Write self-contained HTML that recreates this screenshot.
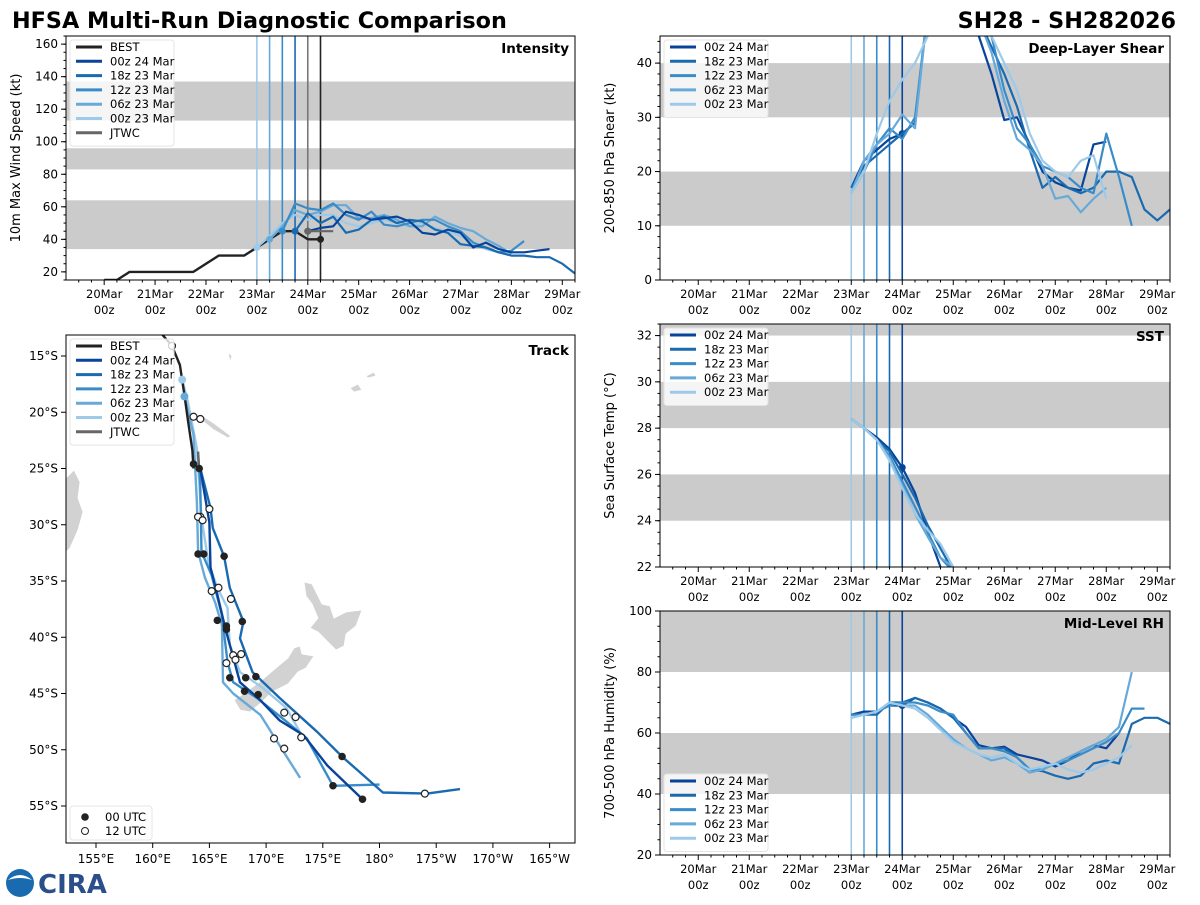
<!DOCTYPE html>
<html><head><meta charset="utf-8"><style>
body{margin:0;background:#fff;font-family:"Liberation Sans","DejaVu Sans",sans-serif}
svg text{font-family:"DejaVu Sans","Liberation Sans",sans-serif}
</style></head><body>
<svg id="s" width="1200" height="900" viewBox="0 0 1200 900" xmlns="http://www.w3.org/2000/svg">
<text x="12" y="28" font-size="22.3" font-weight="bold">HFSA Multi-Run Diagnostic Comparison</text>
<text x="1176" y="28" font-size="22.3" font-weight="bold" text-anchor="end">SH28 - SH282026</text>
<g>
<circle cx="20" cy="883" r="14" fill="#1a6ab0"/><path d="M8 880 Q20 870 32 880 Q20 876 8 880Z" fill="#fff"/>
<text x="38" y="893" font-size="26" font-weight="bold" fill="#2a4f8a">CIRA</text>
</g>
</svg>
<script>
const svg=document.getElementById('s');
const NS='http://www.w3.org/2000/svg';
function mk(t,a,p){const e=document.createElementNS(NS,t);for(const k in a)e.setAttribute(k,a[k]);(p||svg).appendChild(e);return e;}
const COL={best:'#222',r00z24:'#08449a',r18z23:'#1a6ab0',r12z23:'#3a8cc8',r06z23:'#67a9d8',r00z23:'#9ecae9',jtwc:'#666'};
const runNames=['00z 24 Mar','18z 23 Mar','12z 23 Mar','06z 23 Mar','00z 23 Mar'];
const runCols=[COL.r00z24,COL.r18z23,COL.r12z23,COL.r06z23,COL.r00z23];

// ---- data (time in days since 20 Mar 00z, 6-hourly) ----
const bestInt=[15,15,20,20,20,20,20,20,25,30,30,30,35,40,45,45,40,40];
const jtwcInt=[45,45,45];
const int00z24=[45,47,48,57,55,52,53,54,51,44,43,46,44,35,38,34,32,32,33,34];
const int18z23=[45,56,50,54,44,46,52,54,50,52,51,46,44,37,36,35,32,30,30,29,29,25,19];
const int12z23=[45,62,59,58,62,55,52,57,49,48,50,52,52,48,45,38,35,32,33,39];
const int06z23=[40,48,58,55,57,61,61,53,53,55,52,48,48,54,50,47,45,40,36,31];
const int00z23=[35,42,50,55,52,55,55,50,48,50,52,50,48,50,47,45,42,38,34,32,32];

const shr00z24=[17,22,24,26,27,29,50,60,60,55,45,38,29.5,30,25,20,18,17,16.5,25,25.5];
const shr18z23=[17,21,23,25,27,29,50,60,60,55,48,43,38,32,24,17,19,17,16,17,20,20,19,13,11,13];
const shr12z23=[16,20,25,28,26,30,50,60,60,55,50,45,35,28,25,21,20,19,17,16,27,19,10];
const shr06z23=[16,22,25,27,30.5,28,50,60,60,55,48,42,33,26,24,21,15,15.5,12.5,15,17];
const shr00z23=[16,20,27,33,37,40,45,60,60,55,50,45,40,35,27,22,20,19,22,23,15];

const sst00z24=[28.4,28.0,27.6,27.1,26.3,25.2,23.5,22.0];
const sst18z23=[28.4,28.0,27.5,27.0,26.0,25.0,23.8,22.8,21.8];
const sst12z23=[28.4,28.0,27.5,26.8,25.7,24.6,23.5,22.4,21.8];
const sst06z23=[28.4,28.0,27.5,26.7,25.5,24.3,23.3,22.4,22.0];
const sst00z23=[28.4,28.0,27.5,26.6,25.4,24.3,23.6,23.0,22.0];

const rh00z24=[66,67,67,69,69,71.5,70,68,65,62,56,55,55.5,53,52,51,49,51,54,56,55,60];
const rh18z23=[66,66,66,70,70,71.5,70,68,65,60,55,55,55,52,48,47.5,46,45,46,50,51,50,63,65,65,63];
const rh12z23=[66,66,67,69,70,70,69,67,66,60,55,55,54,52,48,48,50,51,53,55,57,60,68,68];
const rh06z23=[65,66,67,70,69,69,66,62,58,55,53,51,52,50,47,48,50,52,54,56,58,62,80];
const rh00z23=[65,66,67,70,69,68,65,61,57,55,53,52,53,50,48,49,50,48,47,48,50,52,56];

const dayLabels=['20Mar','21Mar','22Mar','23Mar','24Mar','25Mar','26Mar','27Mar','28Mar','29Mar'];

function panel(o){
  const g=mk('g',{});  
  const X=t=>o.x0+(t-(-0.75))/(9.25+0.75)*(o.x1-o.x0);
  const Y=v=>o.y1-(v-o.vmin)/(o.vmax-o.vmin)*(o.y1-o.y0);
  const clip='c'+o.name; const cp=mk('clipPath',{id:clip},g); mk('rect',{x:o.x0,y:o.y0,width:o.x1-o.x0,height:o.y1-o.y0},cp);
  o.bands.forEach(b=>{const r=mk('rect',{x:o.x0,y:Y(Math.min(b[1],o.vmax)),width:o.x1-o.x0,height:Y(b[0])-Y(Math.min(b[1],o.vmax)),fill:'#cbcbcb'},g);
    
    });
  const pg=mk('g',{'clip-path':'url(#'+clip+')'},g);
  o.vlines.forEach(v=>{mk('line',{x1:X(v[0]),x2:X(v[0]),y1:o.y0,y2:o.y1,stroke:v[1],'stroke-width':1.6},pg);});
  o.series.forEach(s=>{const pts=s.v.map((v,i)=>X(s.t0+i*0.25).toFixed(1)+','+Y(v).toFixed(1)).join(' ');
    const l=mk('polyline',{points:pts,fill:'none',stroke:s.c,'stroke-width':s.w||2.2,'stroke-linejoin':'round'},pg);
    
    
    if(s.dot!=null){const i=s.dot;mk('circle',{cx:X(s.t0+i*0.25),cy:Y(s.v[i]),r:3.5,fill:s.c},pg);}
  });
  mk('rect',{x:o.x0,y:o.y0,width:o.x1-o.x0,height:o.y1-o.y0,fill:'none',stroke:'#000','stroke-width':1},g);
  for(let d=0;d<=9;d++){const x=X(d);mk('line',{x1:x,x2:x,y1:o.y1,y2:o.y1+5,stroke:'#000'},g);
    const t=mk('text',{x:x,y:o.y1+18,'font-size':11.5,'text-anchor':'middle'},g);t.textContent=dayLabels[d];
    const t2=mk('text',{x:x,y:o.y1+34,'font-size':11.5,'text-anchor':'middle'},g);t2.textContent='00z';}
  for(let d=-0.5;d<=9.25;d+=0.25){if(Math.abs(d-Math.round(d))<0.01)continue;mk('line',{x1:X(d),x2:X(d),y1:o.y1,y2:o.y1+2.5,stroke:'#000'},g);}
  o.ticks.forEach(v=>{mk('line',{x1:o.x0-5,x2:o.x0,y1:Y(v),y2:Y(v),stroke:'#000'},g);
    const t=mk('text',{x:o.x0-8,y:Y(v)+4,'font-size':12,'text-anchor':'end'},g);t.textContent=v;});
  for(let v=o.vmin;v<=o.vmax;v+=o.minor){mk('line',{x1:o.x0-2.5,x2:o.x0,y1:Y(v),y2:Y(v),stroke:'#000'},g);}
  const yl=mk('text',{transform:`translate(${o.x0-46},${(o.y0+o.y1)/2}) rotate(-90)`,'font-size':13,'text-anchor':'middle'},g);yl.textContent=o.ylabel;
  
  const tt=mk('text',{x:o.x1-6,y:o.y0+17,'font-size':13.5,'font-weight':'bold','text-anchor':'end'},g);tt.textContent=o.title;
  
  legend(g,o.x0+6,o.legY!=null?o.legY:o.y0+4,o.leg);
  return {X,Y};
}
function legend(g,x,y,items){
  const lg=mk('g',{},g);
  mk('rect',{x:x-2,y:y,width:104,height:items.length*14.3+6,fill:'#fff','fill-opacity':0.8,stroke:'#e4e4e4',rx:3},lg);
  items.forEach((it,i)=>{const yy=y+11+i*14.3;mk('line',{x1:x+4,x2:x+30,y1:yy-4,y2:yy-4,stroke:it[1],'stroke-width':3},lg);
    const t=mk('text',{x:x+38,y:yy,'font-size':11.5},lg);t.textContent=it[0];
    });
}
const runLeg=runNames.map((n,i)=>[n,runCols[i]]);
const envV=[[3.0,COL.r00z23],[3.25,COL.r06z23],[3.5,COL.r12z23],[3.75,COL.r18z23],[4.0,COL.r00z24]];

panel({name:'intensity-panel',x0:66,x1:575,y0:36,y1:280,vmin:15,vmax:165,ticks:[20,40,60,80,100,120,140,160],minor:5,
  ylabel:'10m Max Wind Speed (kt)',title:'Intensity',bands:[[34,64],[83,96],[113,137]],
  vlines:[[3.0,COL.r00z23],[3.25,COL.r06z23],[3.5,COL.r12z23],[3.75,COL.r18z23],[4.0,'#777'],[4.25,'#222']],
  series:[{n:'best-track-line',v:bestInt,t0:0,c:COL.best,dot:17,w:2.4},
    {n:'run-00z23-line',v:int00z23,t0:3.0,c:COL.r00z23,dot:0},{n:'run-06z23-line',v:int06z23,t0:3.25,c:COL.r06z23,dot:0},
    {n:'run-12z23-line',v:int12z23,t0:3.5,c:COL.r12z23,dot:0},{n:'run-18z23-line',v:int18z23,t0:3.75,c:COL.r18z23,dot:0},
    {n:'run-00z24-line',v:int00z24,t0:4.0,c:COL.r00z24,dot:0},{n:'jtwc-line',v:jtwcInt,t0:4.0,c:COL.jtwc,dot:0}],
  leg:[['BEST',COL.best]].concat(runLeg,[['JTWC',COL.jtwc]])});

function envSeries(arrs,pre){return arrs.map((a,i)=>({n:pre+'-'+runNames[i].replace(/ /g,'').toLowerCase(),v:a,t0:3.0,c:runCols[i],dot:i==0?4:null}));}
panel({name:'shear-panel',x0:660,x1:1170,y0:36,y1:280,vmin:0,vmax:45,ticks:[0,10,20,30,40],minor:2,
  ylabel:'200-850 hPa Shear (kt)',title:'Deep-Layer Shear',bands:[[10,20],[30,40]],vlines:envV,
  series:envSeries([shr00z24,shr18z23,shr12z23,shr06z23,shr00z23],'shear'),leg:runLeg});
panel({name:'sst-panel',x0:660,x1:1170,y0:324,y1:567,vmin:22,vmax:32.5,ticks:[22,24,26,28,30,32],minor:0.5,
  ylabel:'Sea Surface Temp (°C)',title:'SST',bands:[[24,26],[28,30],[32,33]],vlines:envV,
  series:envSeries([sst00z24,sst18z23,sst12z23,sst06z23,sst00z23],'sst'),leg:runLeg});
panel({name:'rh-panel',x0:660,x1:1170,y0:611,y1:855,vmin:20,vmax:100,ticks:[20,40,60,80,100],minor:5,
  ylabel:'700-500 hPa Humidity (%)',title:'Mid-Level RH',bands:[[40,60],[80,100]],vlines:envV,
  series:envSeries([rh00z24,rh18z23,rh12z23,rh06z23,rh00z23],'rh'),leg:runLeg,legY:774});

// ---- Track map ----
const bestLon=[160.5,161.7,162.4,162.8,163.1,163.5,163.6];
const bestLat=[12.7,14.1,15.8,18.5,20.7,23.4,25.0];
const jtwcLon=[164.0,164.1]; const jtwcLat=[23.5,25.2];
const trk00z24Lon=[164.2,165.0,165.1,165.7,166.4,167.7,169.5,171.2,173.3,175.4,178.5];
const trk00z24Lat=[25.0,29.8,33.8,36.2,39.2,44.0,45.6,47.4,48.7,51.4,54.4];
const trk18z23Lon=[164.2,165.1,165.3,166.3,166.8,168.0,167.7,168.8,171.2,174.5,176.8,180.3,184.2,187.1];
const trk18z23Lat=[25.0,28.5,30.3,32.8,35.6,38.6,40.1,43.1,45.4,48.4,50.7,53.8,53.9,53.5];
const trk12z23Lon=[164.0,164.2,164.3,165.2,166.1,166.6,167.1,169.2,171.8,173.6,175.9,180.0];
const trk12z23Lat=[23.8,26.5,32.4,34.5,38.0,42.2,44.0,45.4,47.5,49.0,53.2,53.1];
const trk06z23Lon=[162.8,163.6,163.9,164.0,164.6,165.5,166.1,166.2,167.1,169.5,170.8,173.0];
const trk06z23Lat=[18.6,22.0,28.0,32.4,34.7,36.9,38.9,44.0,45.0,46.9,49.0,52.5];
const trk00z23Lon=[162.6,163.1,163.9,164.3,164.9,165.7,166.6,166.8,167.7,169.7,171.8,173.3];
const trk00z23Lat=[17.1,19.1,23.2,29.4,33.3,35.6,37.4,40.7,43.1,44.5,46.3,49.0];
const dot00Lon=[163.6,164.1,164.0,164.5,166.3,165.7,166.5,166.5,167.9,166.8,168.2,169.1,168.1,169.3,176.7,175.9,178.5];
const dot00Lat=[24.6,25.0,32.6,32.6,32.8,38.5,39.0,39.3,38.6,43.6,43.6,43.5,44.8,45.1,50.6,53.2,54.4];
const dot12Lon=[161.7,163.6,164.2,164.2,165.0,164.0,164.4,165.8,165.2,166.9,167.8,166.5,167.1,167.3,171.6,172.6,170.7,173.1,171.6,184.0];
const dot12Lat=[14.1,20.4,20.6,29.3,28.6,29.3,29.6,35.6,35.9,36.6,41.5,42.3,41.6,42.0,46.7,47.1,49.0,48.9,49.9,53.9];
const lonTicks=[155,160,165,170,175,180,185,190,195];
const lonLabels=['155°E','160°E','165°E','170°E','175°E','180°','175°W','170°W','165°W'];
const latTicks=[15,20,25,30,35,40,45,50,55];

(function(){
  const x0=66,x1=575,y0=335,y1=843;
  const LX=l=>96+(l-155)*11.34, LY=l=>356+(l-15)*11.25;
  const g=mk('g',{});
  const cp=mk('clipPath',{id:'ctrk'},g);mk('rect',{x:x0,y:y0,width:x1-x0,height:y1-y0},cp);
  const pg=mk('g',{'clip-path':'url(#ctrk)'},g);
  const land=mk('g',{fill:'#d2d2d2',stroke:'#fff','stroke-width':0.8},pg);
  mk('path',{d:'M66 478 L74 470 L80 482 L78 498 L83 512 L78 530 L70 548 L66 552Z'},land);
  mk('path',{d:'M304 582 L312 584 L316 592 L322 604 L330 606 L334 618 L346 612 L362 610 L356 626 L346 634 L344 646 L336 650 L326 640 L318 632 L310 628 L318 618 L312 604 L306 596Z'},land);
  mk('path',{d:'M294 648 L300 646 L302 654 L314 656 L306 668 L298 672 L288 684 L272 692 L262 702 L250 712 L240 710 L234 700 L246 692 L262 680 L276 668 L288 658Z'},land);
  mk('path',{d:'M203 416 L215 424 L231 436 L228 438 L214 430 L204 422Z'},land);
  mk('path',{d:'M350 388 L358 384 L362 390 L354 392Z'},land);
  mk('path',{d:'M366 376 L374 372 L376 376 L368 378Z'},land);
  mk('path',{d:'M228 352 L232 356 L230 362Z'},land);
  const tr=[[trk00z23Lon,trk00z23Lat,COL.r00z23],[trk06z23Lon,trk06z23Lat,COL.r06z23],[trk12z23Lon,trk12z23Lat,COL.r12z23],[trk18z23Lon,trk18z23Lat,COL.r18z23],[trk00z24Lon,trk00z24Lat,COL.r00z24],[bestLon,bestLat,COL.best],[jtwcLon,jtwcLat,COL.jtwc]];
  const nm=['track-00z23','track-06z23','track-12z23','track-18z23','track-00z24','track-best','track-jtwc'];
  tr.forEach((s,k)=>{const p=mk('polyline',{points:s[0].map((l,i)=>LX(l).toFixed(1)+','+LY(s[1][i]).toFixed(1)).join(' '),fill:'none',stroke:s[2],'stroke-width':2.4,'stroke-linejoin':'round'},pg);
    
    });
  [[trk00z23Lon,trk00z23Lat,COL.r00z23],[trk06z23Lon,trk06z23Lat,COL.r06z23]].forEach(s=>mk('circle',{cx:LX(s[0][0]),cy:LY(s[1][0]),r:4,fill:s[2]},pg));
  dot00Lon.forEach((l,i)=>{const c=mk('circle',{cx:LX(l),cy:LY(dot00Lat[i]),r:3.8,fill:'#222'},pg);});
  dot12Lon.forEach((l,i)=>{const c=mk('circle',{cx:LX(l),cy:LY(dot12Lat[i]),r:3.5,fill:'#fff',stroke:'#222','stroke-width':1.2},pg);});
  mk('rect',{x:x0,y:y0,width:x1-x0,height:y1-y0,fill:'none',stroke:'#000'},g);
  lonTicks.forEach((l,i)=>{const x=LX(l);mk('line',{x1:x,x2:x,y1:y1,y2:y1+5,stroke:'#000'},g);const t=mk('text',{x:x,y:y1+20,'font-size':12,'text-anchor':'middle'},g);t.textContent=lonLabels[i];});
  latTicks.forEach(l=>{const y=LY(l);mk('line',{x1:x0-5,x2:x0,y1:y,y2:y,stroke:'#000'},g);const t=mk('text',{x:x0-8,y:y+4,'font-size':12,'text-anchor':'end'},g);t.textContent=l+'°S';});
  const tt=mk('text',{x:x1-6,y:y0+20,'font-size':13.5,'font-weight':'bold','text-anchor':'end'},g);tt.textContent='Track';
  
  legend(g,72,y0+4,[['BEST',COL.best]].concat(runLeg,[['JTWC',COL.jtwc]]));
  const ml=mk('g',{},g);
  mk('rect',{x:70,y:806,width:82,height:34,fill:'#fff','fill-opacity':0.8,stroke:'#e4e4e4',rx:3},ml);
  mk('circle',{cx:85,cy:817,r:3.8,fill:'#222'},ml);mk('circle',{cx:85,cy:831,r:3.5,fill:'#fff',stroke:'#222'},ml);
  let t=mk('text',{x:105,y:821,'font-size':11.5},ml);t.textContent='00 UTC';
  t=mk('text',{x:105,y:835,'font-size':11.5},ml);t.textContent='12 UTC';
})();
</script>
</body></html>
